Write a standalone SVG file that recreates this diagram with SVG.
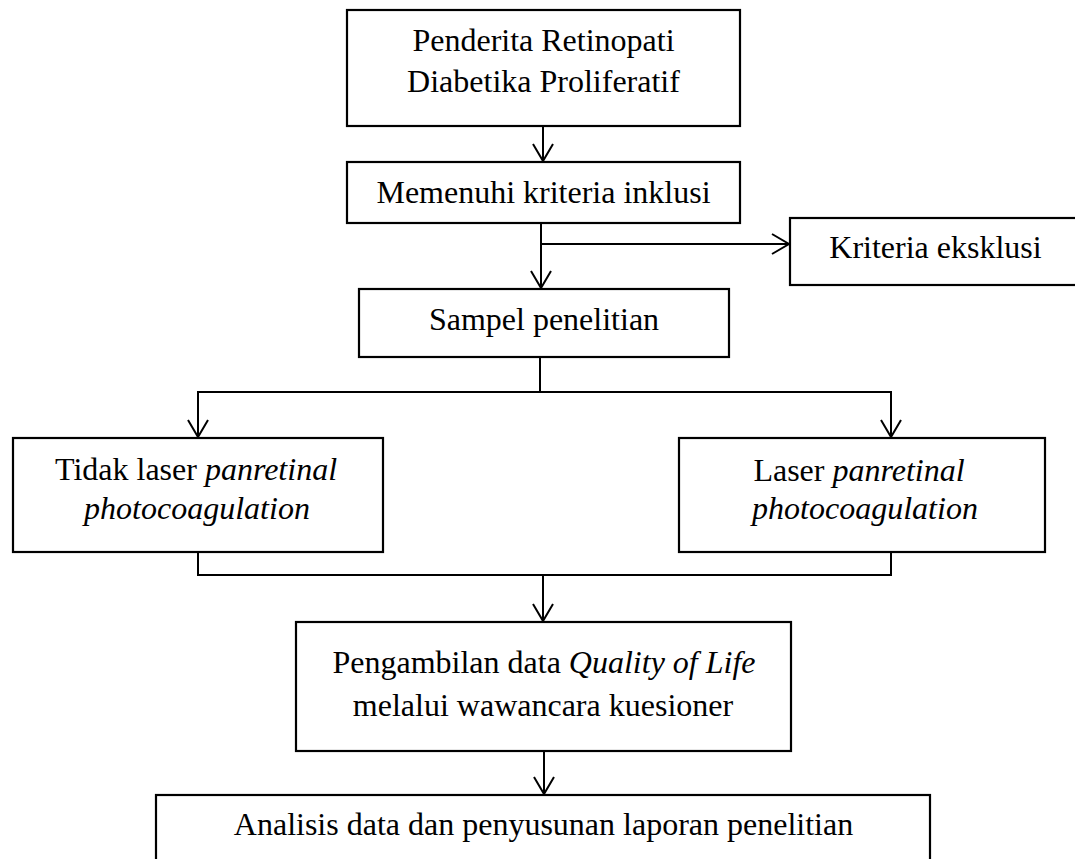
<svg xmlns="http://www.w3.org/2000/svg" width="1075" height="859" viewBox="0 0 1075 859">
<style>
.box{fill:#fff;stroke:#000;stroke-width:2.2}
.t{font-family:"Liberation Serif","Times New Roman",serif;font-size:32px;fill:#000;text-anchor:middle}
.i{font-style:italic}
.c{fill:none;stroke:#000;stroke-width:2}
</style>
<defs>
<marker id="ah" markerUnits="userSpaceOnUse" markerWidth="24" markerHeight="24" viewBox="-20 -12 22 24" refX="0" refY="0" orient="auto">
<path d="M-17,-10 L0,0 L-17,10" fill="none" stroke="#000" stroke-width="2"/>
</marker>
</defs>
<rect width="1075" height="859" fill="#fff"/>
<g id="connectors">
<line class="c" x1="543" y1="126" x2="543" y2="161" marker-end="url(#ah)"/>
<line class="c" x1="541" y1="223" x2="541" y2="288" marker-end="url(#ah)"/>
<line class="c" x1="541" y1="244" x2="789" y2="244" marker-end="url(#ah)"/>
<polyline class="c" points="540,357 540,392"/>
<line class="c" x1="197" y1="392" x2="892" y2="392"/>
<line class="c" x1="198" y1="392" x2="198" y2="437" marker-end="url(#ah)"/>
<line class="c" x1="891" y1="392" x2="891" y2="437" marker-end="url(#ah)"/>
<polyline class="c" points="198,552 198,575 891,575 891,552"/>
<line class="c" x1="543" y1="575" x2="543" y2="621" marker-end="url(#ah)"/>
<line class="c" x1="544" y1="751" x2="544" y2="794" marker-end="url(#ah)"/>
</g>
<g id="n1">
<rect class="box" x="347" y="10" width="393" height="116"/>
<text class="t" x="543.5" y="51">Penderita Retinopati</text>
<text class="t" x="543.5" y="92">Diabetika Proliferatif</text>
</g>
<g id="n2">
<rect class="box" x="347" y="162" width="393" height="61"/>
<text class="t" x="543.5" y="203">Memenuhi kriteria inklusi</text>
</g>
<g id="n3">
<rect class="box" x="790" y="218" width="292" height="67"/>
<text class="t" x="935.5" y="258">Kriteria eksklusi</text>
</g>
<g id="n4">
<rect class="box" x="359" y="289" width="370" height="68"/>
<text class="t" x="544" y="330">Sampel penelitian</text>
</g>
<g id="n5">
<rect class="box" x="13" y="438" width="370" height="114"/>
<text class="t" x="196" y="480">Tidak laser <tspan class="i">panretinal</tspan></text>
<text class="t i" x="197" y="519">photocoagulation</text>
</g>
<g id="n6">
<rect class="box" x="679" y="438" width="366" height="114"/>
<text class="t" x="859" y="481">Laser <tspan class="i">panretinal</tspan></text>
<text class="t i" x="865" y="519">photocoagulation</text>
</g>
<g id="n7">
<rect class="box" x="296" y="622" width="495" height="129"/>
<text class="t" x="544" y="673">Pengambilan data <tspan class="i">Quality of Life</tspan></text>
<text class="t" x="543" y="716">melalui wawancara kuesioner</text>
</g>
<g id="n8">
<rect class="box" x="156" y="795" width="774" height="80"/>
<text class="t" x="543.5" y="835">Analisis data dan penyusunan laporan penelitian</text>
</g>
</svg>
